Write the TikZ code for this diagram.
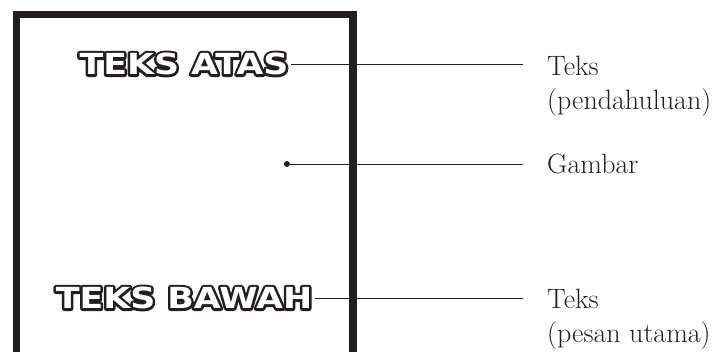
\documentclass[tikz,border=0pt]{standalone}
\usepackage{fontspec}
\newfontfamily\tebal{DejaVu Sans Bold}[FakeStretch=1.2]
\usetikzlibrary{positioning}
\definecolor{tinta}{HTML}{231F20}

\begin{document}
\begin{tikzpicture}[
    x=1pt, y=-1pt,
    teksbesar/.style={inner sep=0pt, font=\tebal\fontsize{29}{29}\selectfont},
    keterangan/.style={inner sep=0pt, align=left, text=tinta, font=\fontsize{28}{34}\selectfont},
    garis/.style={line width=0.8pt, draw=tinta}
]
    \useasboundingbox (0,0) rectangle (725,351);
    % bingkai gambar
    \draw[line width=7.5pt, tinta] (16.5,360) -- (16.5,14.5) -- (353,14.5) -- (353,360);
    % teks bergaris tepi
    \node[teksbesar, text=tinta] at (184,64)
        {\special{pdf:literal direct 1 Tr 5 w 1 j}TEKS ATAS\special{pdf:literal direct 0 Tr}};
    \node[teksbesar, text=tinta] at (184,298)
        {\special{pdf:literal direct 1 Tr 5 w 1 j}TEKS BAWAH\special{pdf:literal direct 0 Tr}};
    \node[teksbesar, text=white] (atas) at (184,64) {TEKS ATAS};
    \node[teksbesar, text=white] (bawah) at (184,298) {TEKS BAWAH};
    \node[circle, fill=tinta, inner sep=0pt, minimum size=6pt] (titik) at (287,164) {};
    % keterangan
    \node[keterangan, anchor=north west] (ketatas) at (547,56) {Teks\\(pendahuluan)};
    \node[keterangan, anchor=base west] (ketgambar) at (547,173) {Gambar};
    \node[keterangan, anchor=north west] (ketbawah) at (547,289) {Teks\\(pesan utama)};
    \coordinate (ujungatas) at (523,64);
    \coordinate (ujunggambar) at (523,164);
    \coordinate (ujungbawah) at (523,298);
    \draw[garis] ([xshift=2.5pt]atas.east) -- (ujungatas);
    \draw[garis] (titik) -- (ujunggambar);
    \draw[garis] ([xshift=2.5pt]bawah.east) -- (ujungbawah);
\end{tikzpicture}
\end{document}
